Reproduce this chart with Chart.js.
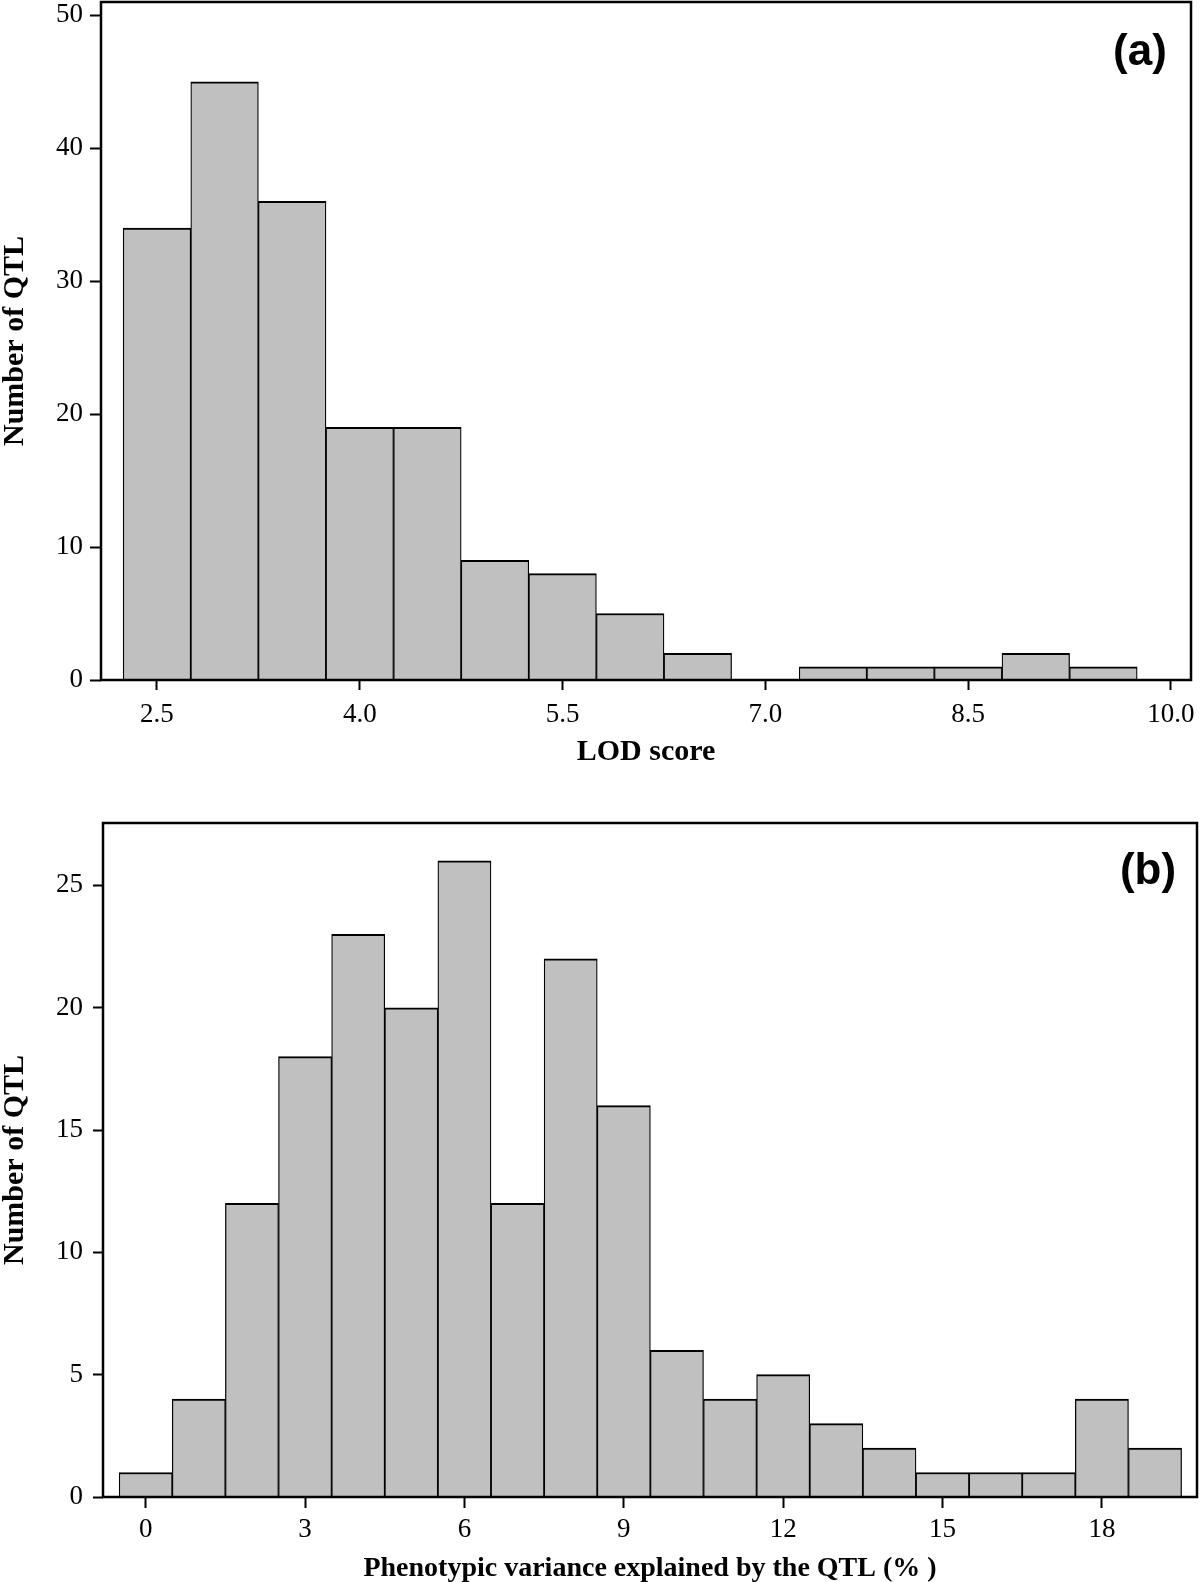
<!DOCTYPE html>
<html>
<head>
<meta charset="utf-8">
<script src="https://cdn.jsdelivr.net/npm/chart.js@4.4.0/dist/chart.umd.min.js"></script>
<style>
  html, body { margin: 0; padding: 0; background: #fff; overflow: hidden; }
  .panel { position: absolute; left: 0; width: 1200px; }
  #lodPanel { top: 0; height: 790px; }
  #pvePanel { top: 790px; height: 800px; }
</style>
</head>
<body>
<div class="panel" id="lodPanel"><canvas id="lodChart"></canvas></div>
<div class="panel" id="pvePanel"><canvas id="pveChart"></canvas></div>
<script>
// (a) LOD score histogram, bins of 0.5
const lodBins = [2.5, 3.0, 3.5, 4.0, 4.5, 5.0, 5.5, 6.0, 6.5, 7.0, 7.5, 8.0, 8.5, 9.0, 9.5];
const lodCounts = [34, 45, 36, 19, 19, 9, 8, 5, 2, 0, 1, 1, 1, 2, 1];
const lodTicks = [2.5, 4.0, 5.5, 7.0, 8.5, 10.0];
const lodCountTicks = [0, 10, 20, 30, 40, 50];

// (b) phenotypic variance histogram, bins of 1
const pveBins = [0, 1, 2, 3, 4, 5, 6, 7, 8, 9, 10, 11, 12, 13, 14, 15, 16, 17, 18, 19];
const pveCounts = [1, 4, 12, 18, 23, 20, 26, 12, 22, 16, 6, 4, 5, 3, 2, 1, 1, 1, 4, 2];
const pveTicks = [0, 3, 6, 9, 12, 15, 18];
const pveCountTicks = [0, 5, 10, 15, 20, 25];

const serif = '"Liberation Serif", "Times New Roman", serif';

function histogram(canvasId, o) {
    const box = {
        id: 'box',
        afterDatasetsDraw(chart) {
            const { ctx, chartArea: a } = chart;
            ctx.save();
            ctx.strokeStyle = '#000';
            ctx.lineWidth = 2.5;
            ctx.strokeRect(a.left, a.top, a.right - a.left, a.bottom - a.top);
            ctx.font = 'bold 44px "Liberation Sans", Arial, sans-serif';
            ctx.textAlign = 'center';
            ctx.textBaseline = 'middle';
            ctx.fillStyle = '#000';
            ctx.fillText(o.tag, o.tagX, o.tagY);
            ctx.restore();
        }
    };

    return new Chart(document.getElementById(canvasId), {
        type: 'bar',
        data: {
            datasets: [{
                data: o.bins.map((b, i) => ({ x: b, y: o.counts[i] })),
                backgroundColor: '#c0c0c0',
                borderColor: '#000',
                borderWidth: { top: 2, left: 1.25, right: 1.25, bottom: 0 },
                barPercentage: 1,
                categoryPercentage: 1
            }]
        },
        options: {
            responsive: true,
            maintainAspectRatio: false,
            animation: false,
            layout: { padding: { top: o.padTop, right: o.padRight, left: 0, bottom: 0 } },
            plugins: { legend: { display: false }, tooltip: { enabled: false } },
            scales: {
                x: {
                    type: 'linear',
                    offset: false,
                    min: o.xMin,
                    max: o.xMax,
                    afterBuildTicks: s => { s.ticks = o.xTicks.map(v => ({ value: v })); },
                    afterFit: s => { s.height = o.xAxisHeight; s.paddingLeft = 0; s.paddingRight = 0; },
                    grid: { offset: false, drawOnChartArea: false, tickLength: o.xTickLen, tickWidth: 2, tickColor: '#000' },
                    border: { display: false },
                    ticks: {
                        padding: o.xTickPad, color: '#000', autoSkip: false, maxRotation: 0,
                        font: { family: serif, size: 27 },
                        callback: o.xFormat
                    },
                    title: {
                        display: true, text: o.xTitle, color: '#000',
                        font: { family: serif, size: o.xTitleSize, weight: 'bold', lineHeight: 1 },
                        padding: { top: 0, bottom: o.xTitlePad }
                    }
                },
                y: {
                    min: 0,
                    max: o.yMax,
                    afterBuildTicks: s => { s.ticks = o.yTicks.map(v => ({ value: v })); },
                    afterFit: s => { s.width = o.yAxisWidth; s.paddingTop = 0; s.paddingBottom = 0; },
                    grid: { drawOnChartArea: false, tickLength: o.yTickLen, tickWidth: 2, tickColor: '#000' },
                    border: { display: false },
                    ticks: { padding: o.yTickPad, color: '#000', font: { family: serif, size: 27 } },
                    title: {
                        display: true, text: 'Number of QTL', color: '#000',
                        font: { family: serif, size: 30, weight: 'bold', lineHeight: 1 },
                        padding: { top: 0, bottom: 0 }
                    }
                }
            }
        },
        plugins: [box]
    });
}

window.addEventListener('load', function () {
    histogram('lodChart', {
        bins: lodBins, counts: lodCounts, xTicks: lodTicks, yTicks: lodCountTicks,
        xMin: 2.086, xMax: 10.148, yMax: 51,
        xFormat: v => Number(v).toFixed(1),
        xTitle: 'LOD score', xTitleSize: 30, xTitlePad: 23,
        padTop: 2, padRight: 9, xAxisHeight: 110, yAxisWidth: 101,
        xTickLen: 10, xTickPad: 9, yTickLen: 11, yTickPad: 7,
        tag: '(a)', tagX: 1140, tagY: 53
    });

    histogram('pveChart', {
        bins: pveBins, counts: pveCounts, xTicks: pveTicks, yTicks: pveCountTicks,
        xMin: -0.804, xMax: 19.79, yMax: 27.55,
        xFormat: v => String(v),
        xTitle: 'Phenotypic variance explained by the QTL (% )', xTitleSize: 28, xTitlePad: 7,
        padTop: 33, padRight: 3, xAxisHeight: 93, yAxisWidth: 103,
        xTickLen: 11, xTickPad: 6, yTickLen: 10, yTickPad: 10,
        tag: '(b)', tagX: 1148, tagY: 82
    });
});
</script>
</body>
</html>
